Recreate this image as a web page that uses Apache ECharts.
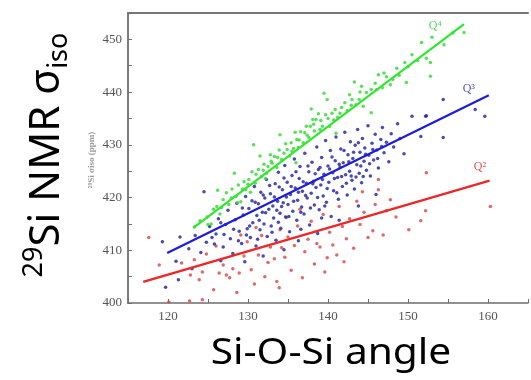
<!DOCTYPE html>
<html>
<head>
<meta charset="utf-8">
<script src="https://cdn.jsdelivr.net/npm/echarts@6/dist/echarts.min.js"></script>
<style>
html,body{margin:0;padding:0;background:#fff;}
#chart{width:531px;height:380px;}
</style>
</head>
<body>
<div id="chart"></div>
<script>
// Q4 (green) scatter points [Si-O-Si angle, sigma_iso]
var greenQ4 = [[123.3,414.4],[124.0,415.6],[124.9,416.3],[125.4,415.0],[125.7,417.8],[126.1,418.3],[126.5,416.9],[126.9,419.6],[127.3,420.9],[127.6,418.7],[128.0,421.6],[128.5,420.2],[128.8,422.4],[129.1,419.2],[129.5,423.0],[129.7,421.5],[130.1,423.4],[130.3,421.0],[130.5,424.9],[130.7,430.0],[130.9,422.7],[131.3,425.3],[131.7,424.0],[132.0,426.3],[132.3,424.6],[132.5,425.9],[132.8,428.1],[133.0,426.5],[133.3,427.8],[133.6,425.7],[133.9,429.0],[134.2,427.2],[134.5,428.4],[134.9,429.1],[135.2,427.9],[135.4,430.4],[135.7,429.3],[136.1,431.0],[136.3,429.5],[136.6,432.5],[136.9,430.4],[137.1,432.3],[137.3,433.5],[137.6,431.4],[137.8,433.5],[138.1,434.8],[138.3,432.6],[138.5,434.8],[138.8,435.9],[139.0,432.9],[139.3,433.5],[139.7,435.7],[139.9,438.6],[140.2,433.5],[140.5,436.0],[140.9,436.7],[141.2,435.2],[141.7,437.1],[142.1,438.0],[142.4,436.5],[142.7,439.5],[143.0,438.6],[143.5,437.6],[143.9,438.6],[144.2,441.1],[144.4,437.3],[144.8,439.9],[145.4,440.5],[145.4,436.1],[145.9,441.7],[146.3,443.3],[146.8,440.8],[147.3,442.9],[147.8,441.4],[148.1,442.4],[148.6,444.5],[149.6,445.6],[149.8,441.8],[150.5,447.1],[151.2,446.0],[151.7,449.4],[152.3,446.4],[152.8,445.6],[152.8,443.0],[153.0,450.4],[154.5,449.0],[155.6,451.2],[157.0,451.3],[126.2,421.4],[128.3,424.6],[134.0,431.9],[136.0,426.6],[141.0,432.2],[143.3,441.9],[131.5,427.9],[139.5,439.8],[125.0,414.9],[126.7,418.1],[127.9,419.9],[129.3,421.6],[130.0,422.5],[131.0,424.4],[131.9,425.2],[132.9,426.9],[133.7,427.6],[134.7,430.2],[135.5,428.8],[136.4,430.9],[137.4,431.8],[138.2,433.9],[139.1,434.6],[140.0,435.0],[140.7,434.7],[141.5,436.0],[142.9,437.5],[144.0,440.0],[146.1,440.5],[147.0,443.6],[148.9,443.2],[150.0,444.8],[128.7,419.0],[132.2,423.6],[135.9,432.4],[137.9,436.8]];

// Q3 (blue) scatter points
var blueQ3 = [[119.3,411.6],[121.5,412.5],[121.3,404.4],[124.5,421.1],[122.6,410.3],[123.4,412.8],[124.1,409.6],[125.2,414.5],[125.8,411.2],[126.3,416.0],[126.0,413.1],[126.9,410.6],[127.2,414.9],[127.5,417.6],[127.8,412.2],[128.1,409.4],[128.4,415.8],[128.6,418.9],[128.9,413.6],[129.2,411.3],[129.4,416.7],[129.7,420.2],[129.9,414.1],[130.1,417.9],[130.3,412.4],[130.5,419.4],[130.6,415.2],[130.8,422.1],[131.0,410.8],[131.1,416.6],[131.3,418.8],[131.5,413.9],[131.6,421.0],[131.8,417.2],[132.0,415.0],[132.1,419.9],[132.3,423.4],[132.4,412.6],[132.6,417.8],[132.8,420.7],[132.9,414.6],[133.1,418.4],[133.2,416.1],[133.4,422.6],[133.5,411.9],[133.7,419.3],[133.8,424.8],[134.0,417.0],[134.1,414.2],[134.3,421.5],[134.4,419.0],[134.6,426.1],[134.7,416.3],[134.9,422.9],[135.0,418.7],[135.2,413.5],[135.3,420.6],[135.5,424.2],[135.6,417.4],[135.8,427.3],[135.9,421.8],[136.1,415.7],[136.2,419.5],[136.4,423.6],[136.5,425.9],[136.7,418.2],[136.8,421.2],[137.0,416.9],[137.1,428.4],[137.3,422.7],[137.4,419.9],[137.6,424.9],[137.7,414.8],[137.9,420.8],[138.0,426.7],[138.2,423.1],[138.3,418.6],[138.5,421.9],[138.6,429.6],[138.8,425.3],[138.9,417.7],[139.1,422.4],[139.2,427.6],[139.4,420.3],[139.5,424.4],[139.7,430.8],[139.8,419.1],[140.0,426.0],[140.1,422.9],[140.3,428.9],[140.4,416.4],[140.6,424.7],[140.7,421.3],[140.9,427.0],[141.0,431.5],[141.2,423.8],[141.3,419.7],[141.5,425.8],[141.6,429.2],[141.8,422.1],[141.9,426.6],[142.1,432.4],[142.2,424.3],[142.4,420.5],[142.5,428.1],[142.7,425.0],[142.8,430.6],[143.0,423.3],[143.1,427.4],[143.3,421.6],[143.4,429.9],[143.6,426.2],[143.7,432.9],[143.9,424.6],[144.0,428.6],[144.2,422.8],[144.3,431.2],[144.5,426.9],[144.6,429.4],[144.8,425.2],[145.0,433.6],[145.1,428.0],[145.3,424.1],[145.5,430.3],[145.7,427.1],[145.9,432.0],[146.1,429.0],[146.3,425.6],[146.6,431.0],[146.8,433.3],[147.0,428.5],[147.3,430.5],[147.6,426.8],[147.9,432.1],[148.2,429.6],[148.7,434.0],[149.0,431.2],[149.5,428.3],[150.5,435.4],[151.6,431.6],[152.2,435.4],[152.3,435.5],[154.4,438.6],[154.4,431.4],[158.4,436.7],[159.6,435.4],[119.7,403.0],[121.0,407.9],[123.0,406.5],[126.6,408.0],[129.6,407.8],[131.9,408.9],[134.5,410.1],[136.3,411.8],[138.7,413.2],[141.4,415.7],[143.8,418.4],[146.0,420.6],[130.2,414.6],[130.9,419.1],[131.4,415.7],[131.9,420.5],[132.2,417.1],[132.7,422.3],[133.0,413.4],[133.3,420.1],[133.6,417.6],[133.9,422.0],[134.2,418.3],[134.5,423.7],[134.8,420.1],[135.1,416.4],[135.4,422.1],[135.7,419.3],[136.0,424.9],[136.3,421.0],[136.6,417.2],[136.9,423.0],[137.2,420.4],[137.5,426.0],[137.8,418.0],[138.1,422.6],[138.4,424.5],[138.7,420.0],[139.0,425.7],[139.3,423.4],[139.6,418.4],[139.9,421.7],[140.2,425.4],[140.5,427.7],[140.8,423.6],[141.1,420.9],[141.4,426.3],[141.7,424.0],[142.0,428.9],[142.3,422.7],[142.6,426.8],[142.9,424.1],[143.2,428.6],[143.5,423.9],[143.8,430.4],[144.1,426.0],[144.4,424.0],[144.7,428.2],[145.2,426.4],[145.6,429.1],[146.2,427.4],[146.7,429.7],[128.2,414.0],[128.8,411.8],[129.3,418.0],[129.8,412.9],[127.0,413.0],[126.6,415.2],[125.5,412.4],[124.8,411.5],[131.2,412.1],[133.8,415.3],[136.6,414.0],[139.2,416.1]];

// Q2 (red) scatter points
var redQ2 = [[117.6,412.4],[118.9,407.2],[120.1,400.2],[122.7,400.4],[122.8,405.3],[123.3,408.2],[123.9,404.4],[124.3,405.9],[124.3,400.6],[124.8,409.3],[125.7,402.5],[126.4,405.7],[126.9,407.2],[127.3,405.3],[127.7,404.8],[128.1,406.5],[128.9,405.7],[129.5,408.9],[129.9,411.6],[130.4,406.3],[130.8,403.6],[131.3,409.1],[131.7,412.8],[132.1,405.0],[132.5,407.7],[132.8,410.6],[133.3,408.4],[133.6,404.1],[134.0,413.9],[134.2,410.5],[134.6,408.7],[135.0,412.5],[135.4,406.2],[135.8,410.9],[136.2,414.6],[136.8,404.8],[137.1,409.7],[137.5,412.1],[137.9,415.5],[138.3,407.4],[138.6,411.3],[139.0,410.6],[139.4,416.8],[139.9,408.6],[140.2,413.4],[140.6,411.0],[141.1,409.1],[141.4,418.3],[141.8,414.5],[142.3,412.2],[142.7,416.0],[143.2,410.4],[143.6,419.3],[144.0,414.9],[144.5,417.2],[145.0,412.4],[145.6,413.7],[146.3,423.4],[146.3,421.5],[146.9,412.9],[147.3,417.5],[147.8,419.6],[148.5,416.3],[150.1,413.9],[151.6,415.6],[152.2,417.5],[152.3,424.7],[160.3,418.3],[121.7,407.6],[126.0,410.8],[128.6,402.0],[131.0,414.3],[133.9,402.9],[136.5,417.8],[139.6,405.9],[142.0,407.8],[144.3,421.1],[145.9,418.7],[129.1,412.9],[134.8,416.2]];

// Linear fit end points
var fitQ4 = [[123.2,414.3],[157.0,452.9]];
var fitQ3 = [[119.9,409.5],[160.1,439.4]];
var fitQ2 = [[116.9,404.0],[160.2,423.2]];

// Q labels
var qNames = ['Q\u2074','Q\u00B3','Q\u00B2'];
var qPos = [[153.4,452.6],[157.6,440.6],[159.0,425.9]];
var qColors = ['#33cc33','#2222bb','#dd2222'];

var chart = echarts.init(document.getElementById('chart'));
var axisGray = '#6e6e6e';
var serif = '"Liberation Serif","DejaVu Serif",serif';

function scatter(name, data, color) {
  return {
    name: name, type: 'scatter', data: data, symbolSize: 3.5,
    itemStyle: {color: color, opacity: 0.85}, z: 2, silent: true
  };
}
function fit(name, data, color) {
  return {
    name: name, type: 'line', data: data, showSymbol: false, symbol: 'none',
    lineStyle: {color: color, width: 2.2}, z: 5, silent: true
  };
}

chart.setOption({
  animation: false,
  backgroundColor: '#ffffff',
  grid: {left: 128, top: 13, right: -12, bottom: 77, containLabel: false},
  xAxis: [{
    type: 'value', min: 115, max: 165, interval: 5, position: 'bottom',
    axisLine: {show: true, onZero: false, lineStyle: {color: axisGray, width: 1.6}},
    axisTick: {show: true, inside: true, length: 4, lineStyle: {color: axisGray}},
    axisLabel: {margin: 7, color: '#555', fontFamily: serif, fontSize: 13,
      formatter: function (v) { return v % 10 === 0 ? String(v) : ''; }},
    splitLine: {show: false}
  }, {
    type: 'value', min: 115, max: 165, position: 'top',
    axisLine: {show: true, onZero: false, lineStyle: {color: '#777', width: 2}},
    axisTick: {show: false}, axisLabel: {show: false}, splitLine: {show: false}
  }],
  yAxis: {
    type: 'value', min: 400, max: 455, interval: 5,
    axisLine: {show: true, onZero: false, lineStyle: {color: axisGray, width: 1.8}},
    axisTick: {show: true, inside: true, length: 4, lineStyle: {color: axisGray}},
    axisLabel: {margin: 6, color: '#555', fontFamily: serif, fontSize: 13,
      formatter: function (v) { return v % 10 === 0 ? String(v) : ''; }},
    splitLine: {show: false}
  },
  series: [
    scatter('Q2 points', redQ2, '#d9504f'),
    scatter('Q3 points', blueQ3, '#2a2aa6'),
    scatter('Q4 points', greenQ4, '#40d840'),
    fit('Q2 fit', fitQ2, '#ee2626'),
    fit('Q3 fit', fitQ3, '#1c1cdc'),
    fit('Q4 fit', fitQ4, '#2ee82e'),
    {
      name: 'labels', type: 'scatter', symbolSize: 0, silent: true, z: 6,
      data: qPos.map(function (p, i) {
        return {value: p, label: {show: true, position: 'inside', formatter: qNames[i],
          color: qColors[i], fontFamily: serif, fontSize: 12}};
      })
    }
  ],
  graphic: [
    {
      type: 'text', x: 331, y: 354, scaleX: 1.13, z: 10,
      style: {text: 'Si-O-Si angle', fontFamily: '"Noto Sans","Open Sans",sans-serif',
        fontSize: 36, fill: '#000', align: 'center', verticalAlign: 'middle'}
    },
    {
      type: 'text', x: 47, y: 155, rotation: Math.PI / 2, z: 10,
      style: {
        text: '{sup|29}{b|Si NMR \u03C3}{sub|iso}',
        align: 'center', verticalAlign: 'middle',
        rich: {
          b: {fontSize: 42, lineHeight: 52, fontFamily: '"Noto Sans","Open Sans",sans-serif', fill: '#000', color: '#000'},
          sup: {fontSize: 27, lineHeight: 30, verticalAlign: 'top', fontFamily: '"Noto Sans","Open Sans",sans-serif', fill: '#000', color: '#000'},
          sub: {fontSize: 27, lineHeight: 30, verticalAlign: 'bottom', fontFamily: '"Noto Sans","Open Sans",sans-serif', fill: '#000', color: '#000'}
        }
      }
    },
    {
      type: 'text', x: 92, y: 160, rotation: Math.PI / 2, z: 10,
      style: {text: '\u00B2\u2079Si \u03C3iso (ppm)', fontFamily: serif, fontWeight: 'bold',
        fontSize: 9, fill: '#9a9a9a', align: 'center', verticalAlign: 'middle'}
    }
  ]
});
</script>
</body>
</html>
